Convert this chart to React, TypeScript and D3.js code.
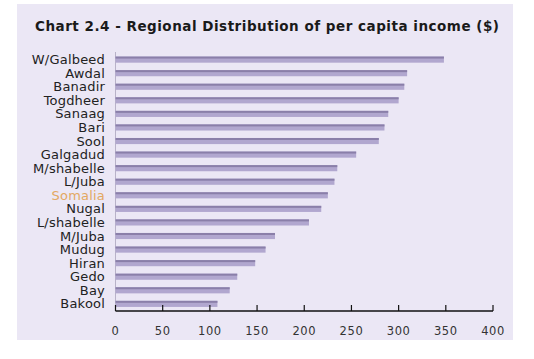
import React from "react";
import * as d3 from "d3";

const regions = ["W/Galbeed","Awdal","Banadir","Togdheer","Sanaag","Bari","Sool","Galgadud","M/shabelle","L/Juba","Somalia","Nugal","L/shabelle","M/Juba","Mudug","Hiran","Gedo","Bay","Bakool"];
const incomes = [348,309,306,300,289,285,279,255,235,232,225,218,205,169,159,148,129,121,108];
const ticks = [0,50,100,150,200,250,300,350,400];
const title = "Chart 2.4 - Regional Distribution of per capita income ($)";

export default function App() {
  const W = 534, H = 359;
  const x = d3.scaleLinear().domain([0, 400]).range([115.5, 493]);
  const y = d3.scaleBand().domain(regions).range([52.5, 311]).paddingInner(0.55).paddingOuter(0.3);
  const bh = y.bandwidth();
  const font = "'DejaVu Sans', Verdana, sans-serif";
  return (
    <svg width={W} height={H} style={{ position: "absolute", left: 0, top: 0, background: "#fff" }}>
      <rect x={17} y={4} width={496} height={336} fill="#ebe7f5" />
      <text x={35} y={31} fontFamily={font} fontWeight="bold" fontSize={13.5} fill="#1a1a1a"
        textLength={464} lengthAdjust="spacing">{title}</text>
      <line x1={x(0)} x2={x(0)} y1={52} y2={311} stroke="#b8b2c8" strokeWidth={1} />
      {regions.map((r, i) => {
        const yy = y(r)!;
        return (
          <g key={r}>
            <rect x={x(0)} y={yy} width={x(incomes[i]) - x(0)} height={bh} fill="#b1a7cf" />
            <rect x={x(0)} y={yy} width={x(incomes[i]) - x(0)} height={2} fill="#8a7fa9" />
            <text x={105} y={yy + bh / 2} dy="0.35em" textAnchor="end" fontFamily={font} fontSize={13}
              letterSpacing={0.2} fill={r === "Somalia" ? "#e3a862" : "#222"}>{r}</text>
          </g>
        );
      })}
      <line x1={x(0)} x2={x(400)} y1={311} y2={311} stroke="#111" strokeWidth={1.6} />
      {ticks.map(t => (
        <g key={t}>
          <line x1={x(t)} x2={x(t)} y1={305} y2={311} stroke="#111" strokeWidth={1.2} />
          <text x={x(t)} y={335} textAnchor="middle" fontFamily={font} fontSize={11.5}
            letterSpacing={0.6} fill="#333">{t}</text>
        </g>
      ))}
    </svg>
  );
}
